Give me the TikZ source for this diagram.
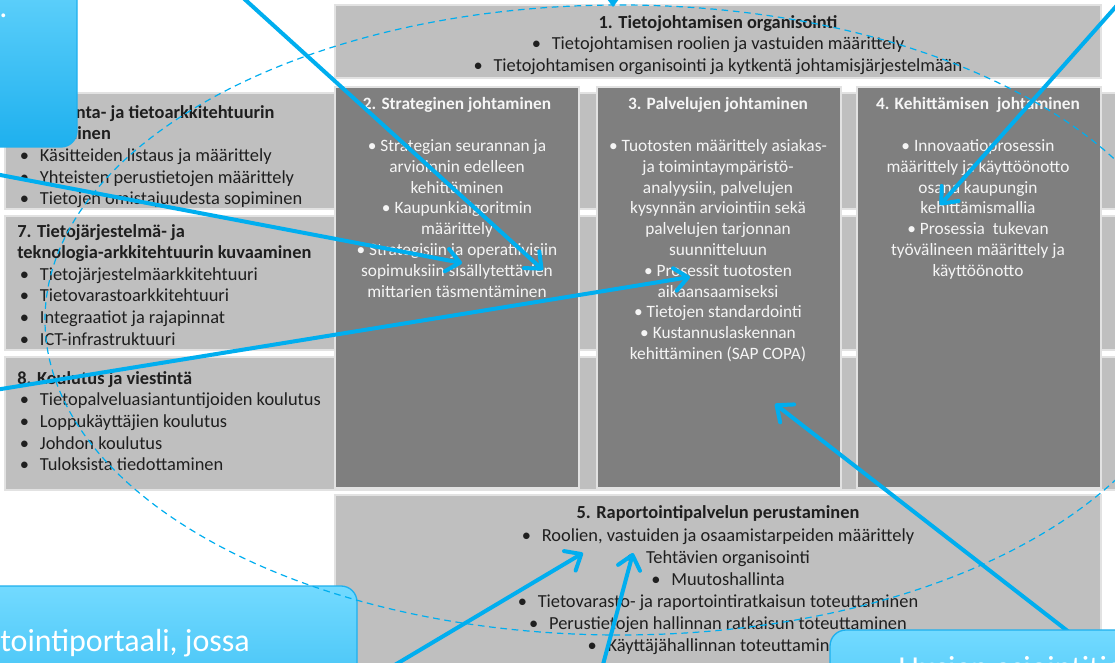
\documentclass[tikz,border=0pt]{standalone}
\usepackage{fontspec}
\setmainfont{Carlito}
\usetikzlibrary{arrows.meta}
\definecolor{pilvi}{HTML}{BFBFBF}
\definecolor{tumma}{HTML}{7F7F7F}
\definecolor{sini}{HTML}{00AEEF}
\definecolor{reuna}{HTML}{E2E2E2}
\definecolor{kupla}{HTML}{72DAFF}
\definecolor{kupla2}{HTML}{1EB0EE}
\newcommand{\pal}{\makebox[15pt][l]{\textbullet}}
\begin{document}
\begin{tikzpicture}[x=0.75pt,y=-0.75pt,
vaalea/.style={fill=pilvi,draw=reuna,line width=1pt},
sarake/.style={fill=tumma,draw=reuna,line width=1pt},
musta/.style={text=black!88,font=\fontsize{13.8}{16.2}\selectfont,inner sep=0pt},
valko/.style={text=white!96!black,font=\fontsize{13}{15.6}\selectfont,inner sep=0pt,align=center},
nuoli/.style={draw=sini,line width=3pt,-{Straight Barb[length=10pt,width=17pt,round]}},
kupla/.style={draw=kupla2,line width=1pt,top color=kupla,bottom color=kupla2,rounded corners=12pt},
isoteksti/.style={text=white,font=\fontsize{24}{28}\selectfont,inner sep=0pt}]
\useasboundingbox (0,0) rectangle (1115,663);
\fill[white] (0,0) rectangle (1115,663);
\foreach \yl/\ya in {93/209,216/350,357/490}
\draw[vaalea] (5,\yl) rectangle (1125,\ya);
\draw[vaalea] (335,5) rectangle (1101,78);
\draw[vaalea] (335,495) rectangle (1101,668);
\foreach \vasen in {335,597,857}
\draw[sarake] (\vasen,87) rectangle ++(244,401);
\node[musta,anchor=north,align=center] (org) at (718,15) {\textbf{1. Tietojohtamisen organisointi}\\ \pal Tietojohtamisen roolien ja vastuiden määrittely\\ \pal Tietojohtamisen organisointi ja kytkentä johtamisjärjestelmään};
\node[musta,anchor=north,align=center] (rap) at (718,505) {\textbf{5. Raportointipalvelun perustaminen}\\[1.5pt] \pal Roolien, vastuiden ja osaamistarpeiden määrittely\\[0.3pt] \pal Tehtävien organisointi\\[0.3pt] \pal Muutoshallinta\\[0.3pt] \pal Tietovarasto- ja raportointiratkaisun toteuttaminen\\[0.3pt] \pal Perustietojen hallinnan ratkaisun toteuttaminen\\[0.3pt] \pal Käyttäjähallinnan toteuttaminen};
\node[musta,anchor=north west,align=left] (kuv) at (17,105) {\textbf{6. Mallinta- ja tietoarkkitehtuurin}\\ \textbf{kuvaaminen}\\ \hspace*{2pt}\pal Käsitteiden listaus ja määrittely\\ \hspace*{2pt}\pal Yhteisten perustietojen määrittely\\ \hspace*{2pt}\pal Tietojen omistajuudesta sopiminen};
\node[musta,anchor=north west,align=left] (tek) at (17,224) {\textbf{7. Tietojärjestelmä- ja}\\ \textbf{teknologia-arkkitehtuurin kuvaaminen}\\ \hspace*{2pt}\pal Tietojärjestelmäarkkitehtuuri\\ \hspace*{2pt}\pal Tietovarastoarkkitehtuuri\\ \hspace*{2pt}\pal Integraatiot ja rajapinnat\\ \hspace*{2pt}\pal ICT-infrastruktuuri};
\node[musta,anchor=north west,align=left] (kou) at (17,371) {\textbf{8. Koulutus ja viestintä}\\ \hspace*{2pt}\pal Tietopalveluasiantuntijoiden koulutus\\ \hspace*{2pt}\pal Loppukäyttäjien koulutus\\ \hspace*{2pt}\pal Johdon koulutus\\ \hspace*{2pt}\pal Tuloksista tiedottaminen};
\node[valko,anchor=north] (str) at (457,97) {\textbf{2. Strateginen johtaminen}\\[16pt] • Strategian seurannan ja\\ arvioinnin edelleen\\ kehittäminen\\ • Kaupunkialgoritmin\\ määrittely\\ • Strategisiin ja operatiivisiin\\ sopimuksiin sisällytettävien\\ mittarien täsmentäminen};
\node[valko,anchor=north] (pal) at (718,97) {\textbf{3. Palvelujen johtaminen}\\[16pt] • Tuotosten määrittely asiakas-\\ ja toimintaympäristö-\\ analyysiin, palvelujen\\ kysynnän arviointiin sekä\\ palvelujen tarjonnan\\ suunnitteluun\\ • Prosessit tuotosten\\ aikaansaamiseksi\\ • Tietojen standardointi\\ • Kustannuslaskennan\\ kehittäminen (SAP COPA)};
\node[valko,anchor=north] (keh) at (978,97) {\textbf{4. Kehittämisen\ \ johtaminen}\\[16pt] • Innovaatioprosessin\\ määrittely ja käyttöönotto\\ osana kaupungin\\ kehittämismallia\\ • Prosessia\ \ tukevan\\ työvälineen määrittely ja\\ käyttöönotto};
\coordinate (alku1) at (240,-5); \coordinate (karki1) at (543,270);
\coordinate (alku2) at (-5,174); \coordinate (karki2) at (462,263);
\coordinate (alku3) at (-5,390); \coordinate (karki3) at (690,277);
\coordinate (alku4) at (1120,2); \coordinate (karki4) at (940,205);
\coordinate (alku5) at (1105,660); \coordinate (karki5) at (775,404);
\coordinate (alku6) at (383,672); \coordinate (karki6) at (583,553);
\coordinate (alku7) at (601,672); \coordinate (karki7) at (633,553);
\foreach \i in {1,...,7}
\draw[nuoli] (alku\i)--(karki\i);
\draw[kupla] (-40,-60) rectangle (77,147);
\node[isoteksti,anchor=base west] (piste) at (-1,18) {.};
\draw[kupla] (-40,586) rectangle (357,780);
\node[isoteksti,anchor=base west] (portaali) at (0,651) {tointiportaali, jossa};
\draw[kupla] (830,630) rectangle (1170,820);
\node[isoteksti,anchor=base west] (uusi) at (898,678) {Uusien asiointitietojen};
\draw[sini,line width=0.9pt,dash pattern=on 5pt off 3.5pt] (620,320) ellipse [x radius=575,y radius=315];
\fill[sini] (607,-1)--(619,-1)--(613,7)--cycle;
\end{tikzpicture}
\end{document}
